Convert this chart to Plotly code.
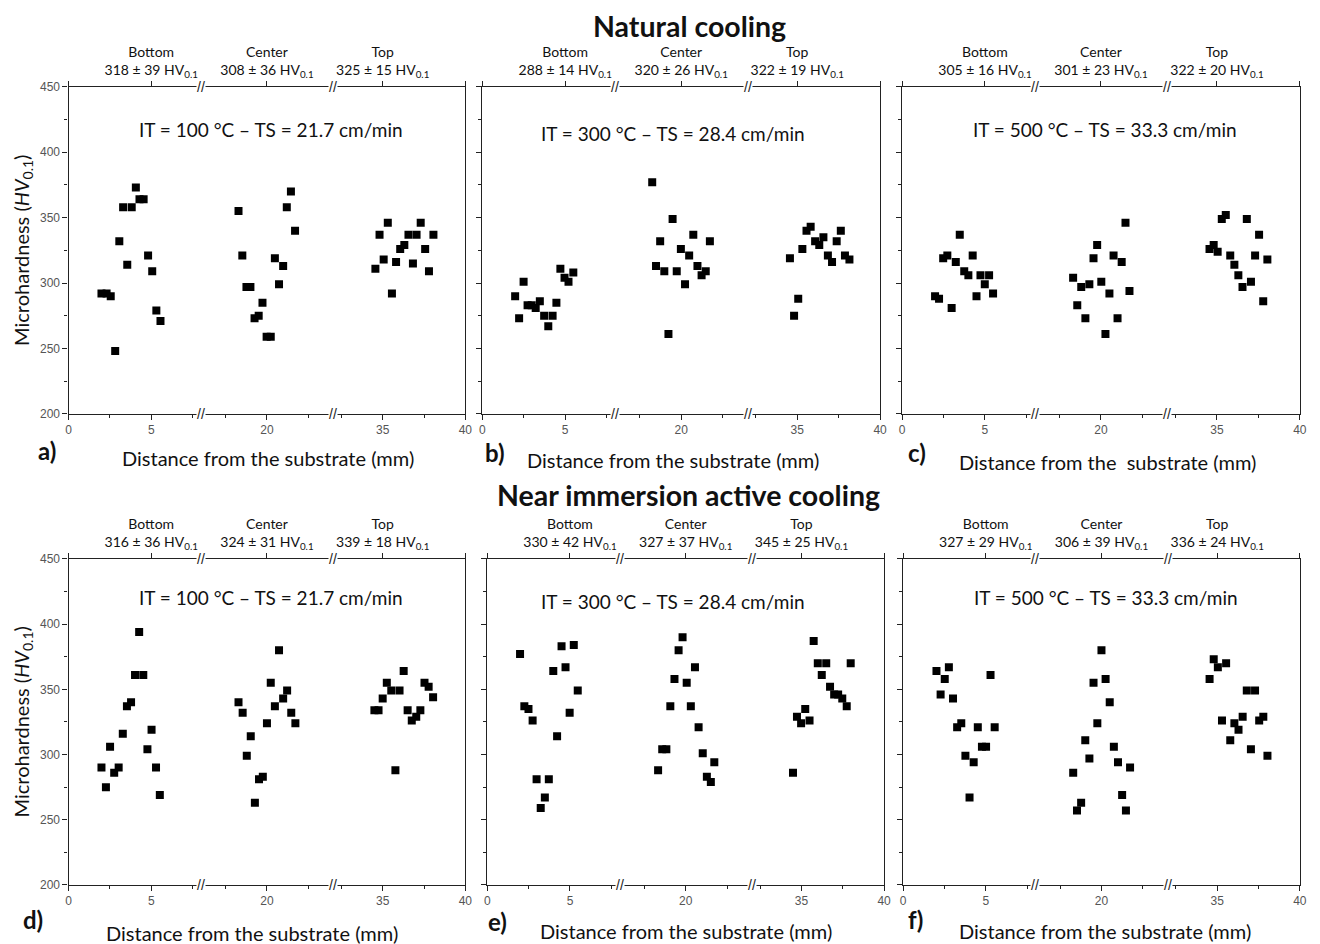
import plotly.graph_objects as go

# ---------------- DATA ----------------
zones = ["Bottom", "Center", "Top"]
seg_ranges = [[0, 8], [16, 24], [32, 40]]
bottom_ticks = [[0, 5], [20], [35, 40]]

a_x = [1.99, 2.30, 2.55, 2.82, 3.07, 3.30, 3.55, 3.82, 4.07, 4.29, 4.54, 4.81, 5.06, 5.31, 5.56,
       18.28, 18.51, 18.76, 19.00, 19.25, 19.50, 19.73, 19.98, 20.23, 20.48, 20.73, 20.98, 21.20, 21.45, 21.70,
       34.56, 34.81, 35.06, 35.31, 35.56, 35.81, 36.06, 36.31, 36.56, 36.83, 37.05, 37.30, 37.57, 37.80, 38.07]
a_y = [292, 292, 290, 248, 332, 358, 314, 358, 373, 364, 364, 321, 309, 279, 271,
       355, 321, 297, 297, 273, 275, 285, 259, 259, 319, 299, 313, 358, 370, 340,
       311, 337, 318, 346, 292, 316, 326, 329, 337, 315, 337, 346, 326, 309, 337]

b_x = [1.98, 2.22, 2.49, 2.73, 2.98, 3.22, 3.47, 3.73, 3.98, 4.24, 4.47, 4.71, 4.96, 5.20, 5.49,
       18.25, 18.48, 18.73, 18.98, 19.23, 19.48, 19.73, 19.98, 20.23, 20.48, 20.73, 20.98, 21.23, 21.48, 21.73,
       34.56, 34.81, 35.06, 35.31, 35.56, 35.81, 36.08, 36.33, 36.58, 36.85, 37.10, 37.38, 37.63, 37.88, 38.15]
b_y = [290, 273, 301, 283, 283, 281, 286, 275, 267, 275, 285, 311, 304, 301, 308,
       377, 313, 332, 309, 261, 349, 309, 326, 299, 321, 337, 313, 306, 309, 332,
       319, 275, 288, 326, 340, 343, 332, 329, 335, 321, 316, 332, 340, 321, 318]

c_x = [1.99, 2.23, 2.48, 2.73, 2.99, 3.24, 3.48, 3.75, 4.00, 4.26, 4.49, 4.73, 4.99, 5.25, 5.49,
       18.32, 18.57, 18.81, 19.06, 19.30, 19.55, 19.77, 20.02, 20.27, 20.51, 20.76, 21.00, 21.25, 21.48, 21.72,
       34.55, 34.80, 35.04, 35.29, 35.53, 35.80, 36.05, 36.29, 36.54, 36.80, 37.05, 37.30, 37.54, 37.79, 38.04]
c_y = [290, 288, 319, 321, 281, 316, 337, 309, 306, 321, 290, 306, 299, 306, 292,
       304, 283, 297, 273, 299, 319, 329, 301, 261, 292, 321, 273, 316, 346, 294,
       326, 329, 324, 349, 352, 321, 314, 306, 297, 349, 301, 321, 337, 286, 318]

d_x = [1.99, 2.26, 2.51, 2.76, 3.03, 3.28, 3.53, 3.78, 4.02, 4.27, 4.52, 4.77, 5.02, 5.29, 5.52,
       18.28, 18.53, 18.78, 19.02, 19.27, 19.52, 19.75, 20.00, 20.23, 20.48, 20.73, 20.98, 21.22, 21.47, 21.72,
       34.50, 34.75, 35.00, 35.25, 35.52, 35.77, 36.02, 36.27, 36.51, 36.76, 37.03, 37.28, 37.53, 37.78, 38.05]
d_y = [290, 275, 306, 286, 290, 316, 337, 340, 361, 394, 361, 304, 319, 290, 269,
       340, 332, 299, 314, 263, 281, 283, 324, 355, 337, 380, 343, 349, 332, 324,
       334, 334, 343, 355, 349, 288, 349, 364, 334, 326, 329, 334, 355, 352, 344]

e_x = [1.98, 2.24, 2.49, 2.74, 2.98, 3.23, 3.48, 3.72, 3.99, 4.22, 4.49, 4.73, 4.98, 5.23, 5.47,
       18.33, 18.58, 18.83, 19.07, 19.32, 19.57, 19.81, 20.06, 20.31, 20.56, 20.78, 21.03, 21.28, 21.52, 21.73,
       34.49, 34.73, 34.98, 35.23, 35.49, 35.74, 35.99, 36.23, 36.50, 36.73, 36.98, 37.22, 37.47, 37.74, 37.98]
e_y = [377, 337, 335, 326, 281, 259, 267, 281, 364, 314, 383, 367, 332, 384, 349,
       288, 304, 304, 337, 358, 380, 390, 355, 337, 367, 321, 301, 283, 279, 294,
       286, 329, 324, 335, 326, 387, 370, 361, 370, 352, 346, 346, 343, 337, 370]

f_x = [2.02, 2.27, 2.52, 2.77, 3.02, 3.27, 3.52, 3.77, 4.02, 4.27, 4.52, 4.77, 5.02, 5.29, 5.54,
       18.29, 18.52, 18.77, 19.02, 19.27, 19.52, 19.75, 20.00, 20.25, 20.50, 20.75, 21.00, 21.25, 21.48, 21.73,
       34.54, 34.79, 35.04, 35.29, 35.54, 35.79, 36.04, 36.29, 36.54, 36.79, 37.04, 37.29, 37.54, 37.79, 38.04]
f_y = [364, 346, 358, 367, 343, 321, 324, 299, 267, 294, 321, 306, 306, 361, 321,
       286, 257, 263, 311, 297, 355, 324, 380, 358, 340, 306, 294, 269, 257, 290,
       358, 373, 367, 326, 370, 311, 324, 319, 329, 349, 304, 349, 326, 329, 299]

a_stats = ["318 ± 39", "308 ± 36", "325 ± 15"]
b_stats = ["288 ± 14", "320 ± 26", "322 ± 19"]
c_stats = ["305 ± 16", "301 ± 23", "322 ± 20"]
d_stats = ["316 ± 36", "324 ± 31", "339 ± 18"]
e_stats = ["330 ± 42", "327 ± 37", "345 ± 25"]
f_stats = ["327 ± 29", "306 ± 39", "336 ± 24"]

cond_100 = "IT = 100 °C – TS = 21.7 cm/min"
cond_300 = "IT = 300 °C – TS = 28.4 cm/min"
cond_500 = "IT = 500 °C – TS = 33.3 cm/min"

row_titles = ["Natural cooling", "Near immersion active cooling"]
x_title = "Distance from the substrate (mm)"
y_title = "Microhardness (<i>HV</i><sub>0.1</sub>)"

# ---------------- LAYOUT ----------------
FW, FH = 1320, 944
# empirical mapping from figure pixels to the photographed page
SX, OX = 0.993, 10.4
SY, OY = 0.985, 14.2
TXT_FONT = "Lato, 'Open Sans', sans-serif"
TICK_FONT = dict(family="Liberation Sans, Arial", size=12, color="#555")
LINE = "#222"


def xp(px):
    return ((px - OX) / SX) / FW


def yp(py):
    return 1 - ((py - OY) / SY) / FH


panels = [
    dict(letter="a", xs=a_x, ys=a_y, stats=a_stats, cond=cond_100, px=(68, 465), py=(86, 413), ylab=True,
         cond_pos=(271, 129), xt_pos=(268, 457), xt=x_title, let_pos=(46, 450)),
    dict(letter="b", xs=b_x, ys=b_y, stats=b_stats, cond=cond_300, px=(482, 880), py=(86, 413), ylab=False,
         cond_pos=(673, 133), xt_pos=(673, 459), xt=x_title, let_pos=(495, 452)),
    dict(letter="c", xs=c_x, ys=c_y, stats=c_stats, cond=cond_500, px=(902, 1300), py=(86, 413), ylab=False,
         cond_pos=(1105, 129), xt_pos=(1108, 461), xt="Distance from the\u00a0 substrate (mm)", let_pos=(917, 452)),
    dict(letter="d", xs=d_x, ys=d_y, stats=d_stats, cond=cond_100, px=(68, 465), py=(558, 884), ylab=True,
         cond_pos=(271, 597), xt_pos=(252, 932), xt=x_title, let_pos=(32, 919)),
    dict(letter="e", xs=e_x, ys=e_y, stats=e_stats, cond=cond_300, px=(487, 884), py=(558, 884), ylab=False,
         cond_pos=(673, 601), xt_pos=(686, 930), xt=x_title, let_pos=(497, 921)),
    dict(letter="f", xs=f_x, ys=f_y, stats=f_stats, cond=cond_500, px=(903, 1300), py=(558, 884), ylab=False,
         cond_pos=(1106, 597), xt_pos=(1105, 930), xt=x_title, let_pos=(915, 919)),
]


def key(prefix, n):
    return f"{prefix}axis" if n == 1 else f"{prefix}axis{n}"


def ref(prefix, n):
    return prefix if n == 1 else f"{prefix}{n}"


fig = go.Figure()
layout = {}
annotations = []
nx = 0
ny = 0

for p in panels:
    x0, x1 = p["px"]
    y0, y1 = p["py"]
    ydom = [yp(y1), yp(y0)]
    seg_w = (x1 - x0) / 3.0

    ny += 1
    ymain = ny
    ny += 1
    yright = ny
    bottom_ids = [nx + 1, nx + 2, nx + 3]
    top_ids = [nx + 4, nx + 5, nx + 6]
    nx += 6

    layout[key("y", ymain)] = dict(
        domain=ydom, range=[200, 450], anchor=ref("x", bottom_ids[0]), side="left",
        showline=True, linecolor=LINE, linewidth=1.3, mirror=False,
        ticks="outside", ticklen=5, tickwidth=1.2, tickcolor=LINE,
        tickvals=[200, 250, 300, 350, 400, 450], showticklabels=p["ylab"], tickfont=TICK_FONT,
        minor=dict(dtick=25, tick0=200, ticks="outside", ticklen=3, tickwidth=1.1, tickcolor=LINE),
        showgrid=False, zeroline=False)
    layout[key("y", yright)] = dict(
        domain=ydom, range=[200, 450], anchor=ref("x", bottom_ids[2]), side="right",
        overlaying=ref("y", ymain), showline=True, linecolor=LINE, linewidth=1.3,
        ticks="", showticklabels=False, showgrid=False, zeroline=False)
    fig.add_trace(go.Scatter(x=[None], y=[None], xaxis=ref("x", bottom_ids[2]), yaxis=ref("y", yright),
                             mode="markers", showlegend=False, hoverinfo="skip"))

    for s in range(3):
        dom = [xp(x0 + s * seg_w), xp(x0 + (s + 1) * seg_w)]
        bid = bottom_ids[s]
        tid = top_ids[s]
        layout[key("x", bid)] = dict(
            domain=dom, range=seg_ranges[s], anchor=ref("y", ymain), side="bottom",
            showline=True, linecolor=LINE, linewidth=1.3,
            ticks="outside", ticklen=5, tickwidth=1.2, tickcolor=LINE,
            tickvals=bottom_ticks[s], ticktext=[str(v) for v in bottom_ticks[s]], tickfont=TICK_FONT,
            minor=dict(dtick=2.5, tick0=0, ticks="outside", ticklen=3, tickwidth=1.1, tickcolor=LINE),
            showgrid=False, zeroline=False)
        ttext = []
        for v in bottom_ticks[s]:
            if v in (0, 40):
                ttext.append("")
            else:
                ttext.append(f"{zones[s]}<br>{p['stats'][s]} HV<sub>0.1</sub>")
        layout[key("x", tid)] = dict(
            domain=dom, range=seg_ranges[s], anchor=ref("y", ymain), side="top",
            overlaying=ref("x", bid), showline=True, linecolor=LINE, linewidth=1.3,
            ticks="outside", ticklen=5, tickwidth=1.2, tickcolor=LINE,
            tickvals=bottom_ticks[s], ticktext=ttext,
            tickfont=dict(family=TXT_FONT, size=14, color="#111"),
            showgrid=False, zeroline=False)
        fig.add_trace(go.Scatter(x=[None], y=[None], xaxis=ref("x", tid), yaxis=ref("y", ymain),
                                 mode="markers", showlegend=False, hoverinfo="skip"))

        lo, hi = seg_ranges[s]
        xs = [xv for xv in p["xs"] if lo <= xv <= hi]
        ys = [yv for xv, yv in zip(p["xs"], p["ys"]) if lo <= xv <= hi]
        fig.add_trace(go.Scatter(
            x=xs, y=ys, mode="markers", xaxis=ref("x", bid), yaxis=ref("y", ymain),
            marker=dict(symbol="square", size=8, color="black", line=dict(width=0)),
            showlegend=False, hoverinfo="x+y"))

    # axis break marks
    for s in (1, 2):
        for yy in (0, 1):
            annotations.append(dict(
                xref=f"{ref('x', bottom_ids[s])} domain", x=0,
                yref=f"{ref('y', ymain)} domain", y=yy,
                text="//", showarrow=False, bgcolor="white", borderpad=0,
                xanchor="center", yanchor="middle",
                font=dict(family="Liberation Sans, Arial", size=14, color=LINE)))

    cx, cy = p["cond_pos"]
    annotations.append(dict(xref="paper", yref="paper", x=xp(cx), y=yp(cy),
                            text=p["cond"], showarrow=False, xanchor="center", yanchor="middle",
                            font=dict(family=TXT_FONT, size=19, color="#111")))
    tx, ty = p["xt_pos"]
    annotations.append(dict(xref="paper", yref="paper", x=xp(tx), y=yp(ty),
                            text=p["xt"], showarrow=False, xanchor="center", yanchor="middle",
                            font=dict(family=TXT_FONT, size=20, color="#111")))
    lx, ly = p["let_pos"]
    annotations.append(dict(xref="paper", yref="paper", x=xp(lx), y=yp(ly),
                            text=f"<b>{p['letter']})</b>", showarrow=False, xanchor="center", yanchor="middle",
                            font=dict(family=TXT_FONT, size=24, color="#111")))
    if p["ylab"]:
        annotations.append(dict(xref="paper", yref="paper", x=xp(22), y=yp((y0 + y1) / 2),
                                text=y_title, showarrow=False, textangle=-90,
                                xanchor="center", yanchor="middle",
                                font=dict(family=TXT_FONT, size=20, color="#111")))

for title, (tx, ty) in zip(row_titles, [(689, 25.5), (688, 494)]):
    annotations.append(dict(xref="paper", yref="paper", x=xp(tx), y=yp(ty),
                            text=f"<b>{title}</b>", showarrow=False, xanchor="center", yanchor="middle",
                            font=dict(family=TXT_FONT, size=28.5, color="#111")))

fig.update_layout(
    width=FW, height=FH, margin=dict(l=0, r=0, t=0, b=0),
    paper_bgcolor="white", plot_bgcolor="white",
    annotations=annotations, showlegend=False, **layout)

fig.write_html("out.html")
